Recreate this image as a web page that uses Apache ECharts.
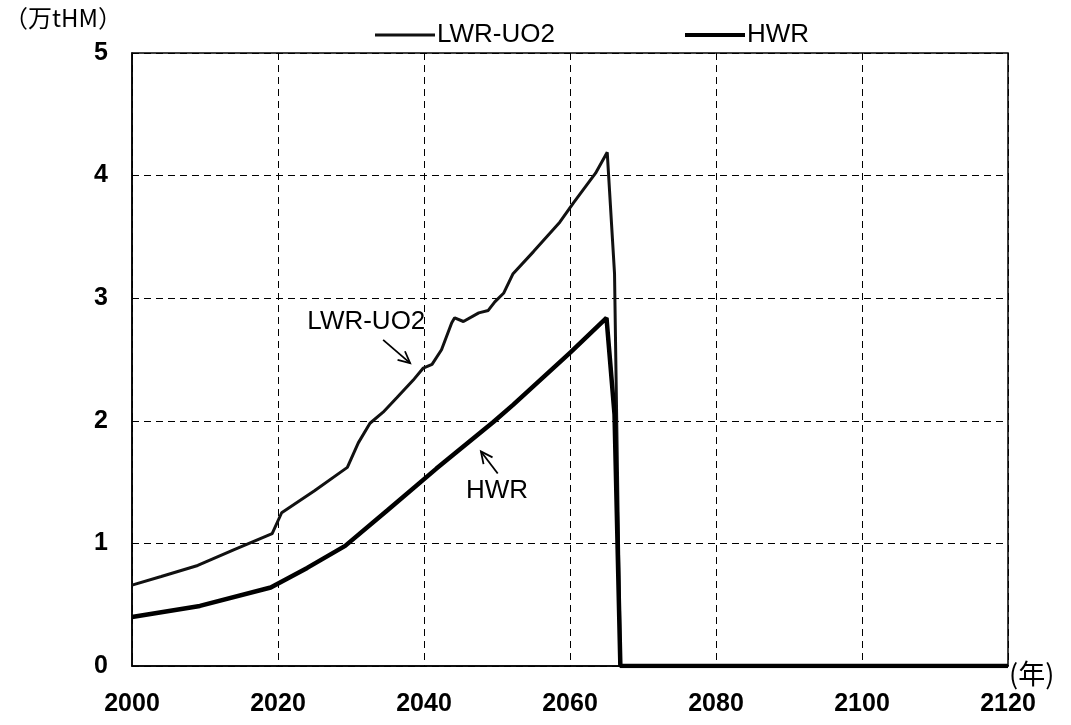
<!DOCTYPE html>
<html>
<head>
<meta charset="utf-8">
<script src="https://cdn.jsdelivr.net/npm/echarts@6/dist/echarts.min.js"></script>
<style>
  html, body { margin: 0; padding: 0; background: #fff; }
  #chart { width: 1071px; height: 725px; }
</style>
</head>
<body>
<div id="chart"></div>
<script>
// Spent fuel inventory (万tHM) by year
const lwrYears = [2000, 2004, 2009, 2014, 2019.2, 2020.5, 2025, 2029.5, 2031, 2032.6, 2034.4, 2036.3, 2038.5, 2039.9, 2041.1, 2042.4, 2043.8, 2044.2, 2045.4, 2047.5, 2048.8, 2049.7, 2050.9, 2052.2, 2055, 2058.6, 2060.5, 2063.5, 2065.1, 2066.1, 2066.9, 2120];
const lwrValues = [0.66, 0.73, 0.82, 0.95, 1.08, 1.25, 1.43, 1.62, 1.82, 1.98, 2.07, 2.19, 2.33, 2.43, 2.46, 2.58, 2.80, 2.84, 2.81, 2.88, 2.90, 2.97, 3.04, 3.20, 3.38, 3.62, 3.78, 4.02, 4.19, 3.20, 0, 0];

const hwrYears = [2000, 2009.3, 2019, 2024, 2029.2, 2035, 2041.7, 2049.5, 2052.2, 2060.1, 2065.0, 2066.1, 2066.9, 2120];
const hwrValues = [0.40, 0.49, 0.64, 0.80, 0.98, 1.27, 1.61, 1.99, 2.13, 2.56, 2.84, 2.05, 0, 0];

const seriesNames = ['LWR-UO2', 'HWR'];
const yUnit = '（万tHM）';
const xUnit = '(年)';

// Callout labels: [text, label position, arrow tail, arrow head] in data units
const callouts = [
  ['LWR-UO2', [2032.1, 2.81], [2034.4, 2.66], [2038.1, 2.47]],
  ['HWR', [2050.0, 1.43], [2050.1, 1.57], [2047.8, 1.75]]
];

const font = '"Liberation Sans", Arial, sans-serif';
const cjkFont = '"Noto Sans CJK JP", "Liberation Sans", sans-serif';

const chart = echarts.init(document.getElementById('chart'));

const zip = (xs, ys) => xs.map((x, i) => [x, ys[i]]);

chart.setOption({
  animation: false,
  backgroundColor: '#fff',
  grid: { left: 132, right: 63, top: 53, bottom: 59, show: true, borderColor: '#000', borderWidth: 1.5, backgroundColor: 'transparent' },
  legend: [
    { data: [seriesNames[0]], left: 370, top: 17, icon: 'rect', itemWidth: 60, itemHeight: 3, itemGap: 0,
      textStyle: { fontFamily: font, fontSize: 26, color: '#000', padding: [0, 0, 0, -3] } },
    { data: [seriesNames[1]], left: 680, top: 17, icon: 'rect', itemWidth: 60, itemHeight: 4, itemGap: 0,
      textStyle: { fontFamily: font, fontSize: 26, color: '#000', padding: [0, 0, 0, -3] } }
  ],
  xAxis: {
    type: 'value', min: 2000, max: 2120, interval: 20,
    axisLine: { show: true, lineStyle: { color: '#000', width: 1.5 } },
    axisTick: { show: false },
    axisLabel: { color: '#000', fontFamily: font, fontSize: 25, fontWeight: 'bold', margin: 26,
      formatter: (v) => String(v) },
    splitLine: { show: true, lineStyle: { color: '#000', type: [7, 5], width: 1 } }
  },
  yAxis: {
    type: 'value', min: 0, max: 5, interval: 1,
    axisLine: { show: true, lineStyle: { color: '#000', width: 1.5 } },
    axisTick: { show: false },
    axisLabel: { color: '#000', fontFamily: font, fontSize: 25, fontWeight: 'bold', margin: 24 },
    splitLine: { show: true, lineStyle: { color: '#000', type: [7, 5], width: 1 } }
  },
  graphic: [
    { type: 'text', left: 4, top: 6, style: { text: yUnit, font: '24px ' + cjkFont, fill: '#000' } },
    { type: 'text', left: 1009, top: 660, style: { text: xUnit, font: '27px ' + cjkFont, fill: '#000' } }
  ],
  series: [
    { name: seriesNames[0], type: 'line', data: zip(lwrYears, lwrValues), showSymbol: false,
      lineStyle: { color: '#111', width: 3 }, itemStyle: { color: '#111' }, z: 3 },
    { name: seriesNames[1], type: 'line', data: zip(hwrYears, hwrValues), showSymbol: false,
      lineStyle: { color: '#000', width: 4.5 }, itemStyle: { color: '#000' }, z: 4 }
  ]
});

// Callout labels with open arrowheads, placed through the axis scales
const toPx = (p) => chart.convertToPixel({ gridIndex: 0 }, p);
const extra = [];
callouts.forEach(([text, at, tail, head]) => {
  const c = toPx(at), t = toPx(tail), h = toPx(head);
  extra.push({ type: 'text', x: c[0], y: c[1],
    style: { text, font: '26px ' + font, fill: '#000', align: 'center', verticalAlign: 'middle' } });
  extra.push({ type: 'line', shape: { x1: t[0], y1: t[1], x2: h[0], y2: h[1] },
    style: { stroke: '#000', lineWidth: 1.8 } });
  const ang = Math.atan2(h[1] - t[1], h[0] - t[0]);
  const len = 13, spread = 0.45;
  const a1 = [h[0] - len * Math.cos(ang - spread), h[1] - len * Math.sin(ang - spread)];
  const a2 = [h[0] - len * Math.cos(ang + spread), h[1] - len * Math.sin(ang + spread)];
  extra.push({ type: 'polyline', shape: { points: [a1, h, a2] },
    style: { stroke: '#000', lineWidth: 1.8, fill: null } });
});
const opt = chart.getOption();
chart.setOption({ graphic: opt.graphic[0].elements.concat(extra) });
</script>
</body>
</html>
